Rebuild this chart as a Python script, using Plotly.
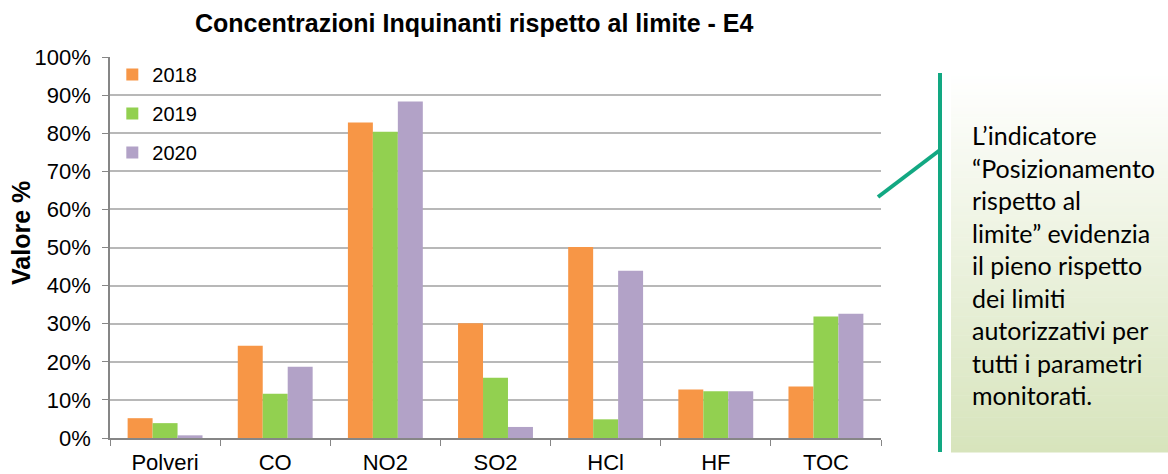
import plotly.graph_objects as go

# Pollutant concentrations as a fraction of the authorised limit
categories = ["Polveri", "CO", "NO2", "SO2", "HCl", "HF", "TOC"]
years = ["2018", "2019", "2020"]
values_2018 = [0.052, 0.242, 0.828, 0.301, 0.501, 0.127, 0.135]
values_2019 = [0.039, 0.116, 0.804, 0.158, 0.049, 0.123, 0.319]
values_2020 = [0.007, 0.187, 0.883, 0.029, 0.439, 0.123, 0.326]
colors = ["#F79646", "#92D050", "#B2A2C7"]

W, H = 1168, 474
L, R, T, B = 110, 287, 57, 36
PW, PH = W - L - R, H - T - B


def px_x(x):
    return (x - L) / PW


def px_y(y):
    return (H - B - y) / PH


fig = go.Figure()
for name, vals, col in zip(years, [values_2018, values_2019, values_2020], colors):
    fig.add_trace(go.Bar(
        x=categories, y=vals, name=name, legendgroup=name,
        marker=dict(color=col, line=dict(width=0)),
    ))

shapes = []
# side note box with a vertical white-to-green gradient
box_x0, box_x1, box_y0, box_y1 = 951, 1168, 73, 452
top_rgb = (255, 255, 255)
bot_rgb = (215, 228, 188)
n = 120
step = (box_y1 - box_y0) / n
for i in range(n):
    t = (i + 0.5) / n
    c = tuple(round(a + (b - a) * t) for a, b in zip(top_rgb, bot_rgb))
    shapes.append(dict(
        type="rect", xref="paper", yref="paper", layer="below",
        x0=px_x(box_x0), x1=px_x(box_x1),
        y0=px_y(box_y0 + i * step), y1=px_y(box_y0 + (i + 1) * step + 0.6),
        line=dict(width=0), fillcolor="rgb(%d,%d,%d)" % c,
    ))
# bracket line and pointer
teal = "#12A882"
shapes.append(dict(type="line", xref="paper", yref="paper",
                   x0=px_x(940), x1=px_x(940), y0=px_y(73), y1=px_y(452),
                   line=dict(color=teal, width=4)))
shapes.append(dict(type="line", xref="paper", yref="paper",
                   x0=px_x(878), x1=px_x(940), y0=px_y(197), y1=px_y(150),
                   line=dict(color=teal, width=4)))

note = ("L’indicatore<br>“Posizionamento<br>rispetto al<br>limite” evidenzia<br>"
        "il pieno rispetto<br>dei limiti<br>autorizzativi per<br>tutti i parametri<br>monitorati.")

annotations = [
    dict(text="Concentrazioni Inquinanti rispetto al limite - E4",
         xref="paper", yref="paper", x=px_x(474), y=px_y(23),
         xanchor="center", yanchor="middle", showarrow=False,
         font=dict(family="Liberation Sans, Arial", size=25, color="#000000", weight="bold")),
    dict(text="Valore %", textangle=-90,
         xref="paper", yref="paper", x=px_x(21), y=px_y(233),
         xanchor="center", yanchor="middle", showarrow=False,
         font=dict(family="Liberation Sans, Arial", size=25, color="#000000", weight="bold")),
    dict(text=note, align="left",
         xref="paper", yref="paper", x=px_x(970), y=px_y(118),
         xanchor="left", yanchor="top", showarrow=False,
         font=dict(family="Lato", size=25, color="#000000")),
]

fig.update_layout(
    width=W, height=H,
    margin=dict(l=L, r=R, t=T, b=B, pad=0, autoexpand=False),
    paper_bgcolor="white", plot_bgcolor="white",
    barmode="group", bargap=0.32, bargroupgap=0,
    font=dict(family="Liberation Sans, Arial", size=21, color="#000000"),
    showlegend=True,
    legend=dict(x=0.003, y=px_y(55), xanchor="left", yanchor="top",
                font=dict(size=20), tracegroupgap=10,
                bgcolor="rgba(0,0,0,0)", itemclick=False),
    shapes=shapes,
    annotations=annotations,
)
fig.update_xaxes(
    automargin=False,
    showline=True, linecolor="#868686", linewidth=1.5,
    ticks="outside", tickson="boundaries", ticklen=6, tickcolor="#868686",
    showgrid=False, tickfont=dict(size=22), ticklabelstandoff=4,
)
fig.update_yaxes(
    automargin=False,
    range=[0, 1], dtick=0.1, tickformat=".0%",
    showline=True, linecolor="#868686", linewidth=1.5,
    ticks="outside", ticklen=6, tickcolor="#868686",
    gridcolor="#B8B8B8", gridwidth=1.5, zeroline=False,
    tickfont=dict(size=22), ticklabelstandoff=7,
)

fig.write_html("out.html")
